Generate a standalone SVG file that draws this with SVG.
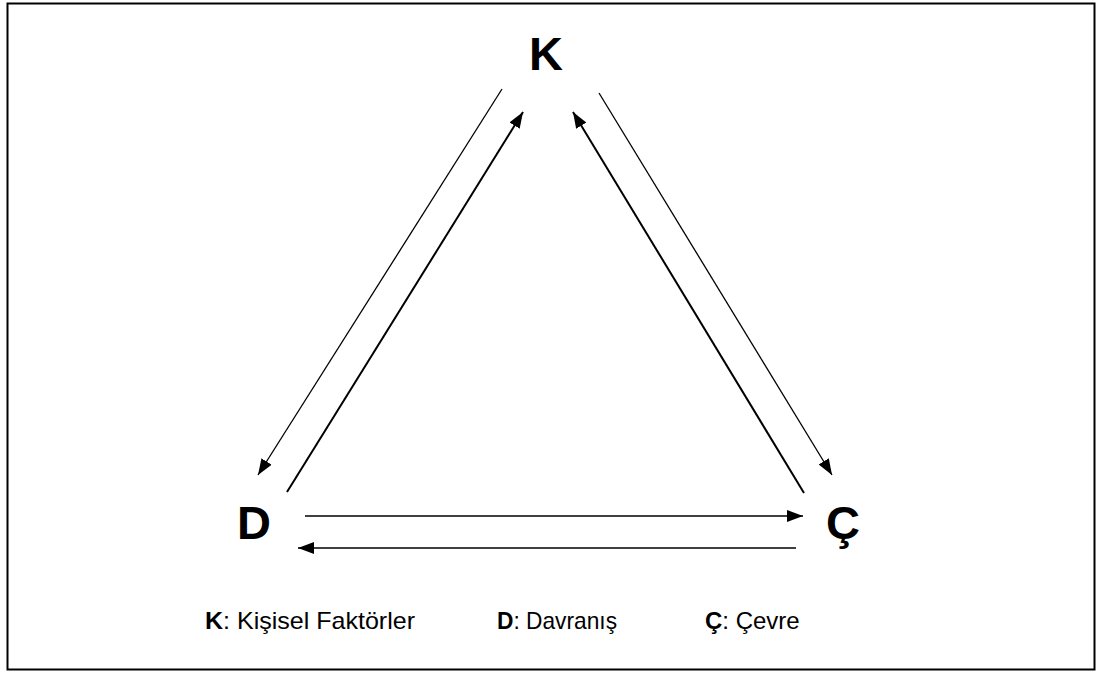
<svg xmlns="http://www.w3.org/2000/svg" width="1097" height="673" viewBox="0 0 1097 673">
<style>
.thin{stroke:#000;stroke-width:1.3;fill:none}
.thick{stroke:#000;stroke-width:2;fill:none}
.big{font-family:"Liberation Sans",Arial,sans-serif;font-weight:bold;font-size:47px;fill:#000}
.leg{font-family:"Liberation Sans",Arial,sans-serif;font-size:24px;fill:#000}
</style>
<defs>
<marker id="ah" markerUnits="userSpaceOnUse" markerWidth="17" markerHeight="12" refX="16" refY="6" orient="auto">
<path d="M0,0 L16,6 L0,12 z" fill="#000"/>
</marker>
</defs>
<rect x="7.5" y="3.5" width="1087" height="666" fill="#fff" stroke="#000" stroke-width="2"/>
<g id="connectors">
<line class="thin" x1="502" y1="89" x2="258" y2="475" marker-end="url(#ah)"/>
<line class="thick" x1="287" y1="492" x2="523" y2="112" marker-end="url(#ah)"/>
<line class="thick" x1="804" y1="493" x2="573" y2="112" marker-end="url(#ah)"/>
<line class="thin" x1="599" y1="93" x2="832" y2="475" marker-end="url(#ah)"/>
<line class="thin" x1="305" y1="516" x2="803" y2="516" marker-end="url(#ah)"/>
<line class="thin" x1="796" y1="548" x2="298" y2="548" marker-end="url(#ah)"/>
</g>
<g id="node-K"><text class="big" x="546" y="70" text-anchor="middle">K</text></g>
<g id="node-D"><text class="big" x="254" y="539" text-anchor="middle">D</text></g>
<g id="node-C"><text class="big" x="843" y="539" text-anchor="middle">Ç</text></g>
<g id="legend">
<text class="leg" x="205" y="629" textLength="210" lengthAdjust="spacingAndGlyphs"><tspan font-weight="bold">K</tspan>: Kişisel Faktörler</text>
<text class="leg" x="497" y="629" textLength="120" lengthAdjust="spacingAndGlyphs"><tspan font-weight="bold">D</tspan>: Davranış</text>
<text class="leg" x="705" y="629"><tspan font-weight="bold">Ç</tspan>: Çevre</text>
</g>
</svg>
